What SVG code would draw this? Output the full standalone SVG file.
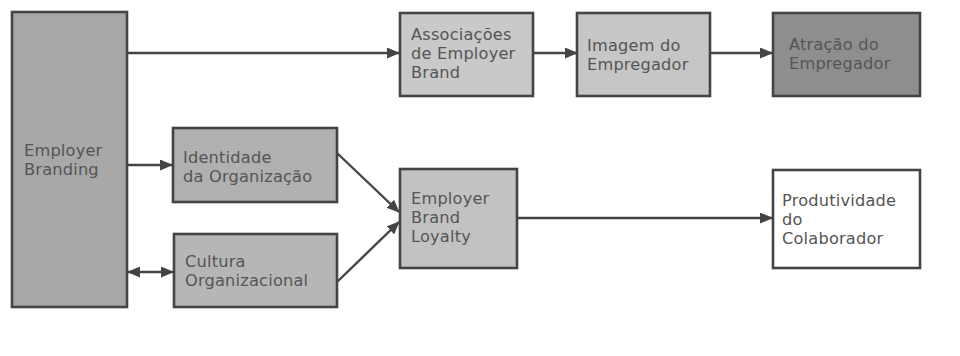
<svg xmlns="http://www.w3.org/2000/svg" width="960" height="356" viewBox="0 0 960 356">
<style>
.box{stroke:#444444;stroke-width:2.6}
.t{font-family:"DejaVu Sans",sans-serif;font-size:16.2px;fill:#555555;letter-spacing:0.2px}
.c{stroke:#444444;stroke-width:2.4;fill:none}
</style>
<defs>
<marker id="ah" viewBox="0 0 13 11" refX="12" refY="5.5" markerWidth="13" markerHeight="11" markerUnits="userSpaceOnUse" orient="auto-start-reverse">
<path d="M0,0 L13,5.5 L0,11 z" fill="#444444"/>
</marker>
</defs>
<rect width="960" height="356" fill="#ffffff"/>
<g id="connectors">
<line class="c" x1="127" y1="53" x2="399" y2="53" marker-end="url(#ah)"/>
<line class="c" x1="533" y1="53" x2="577" y2="53" marker-end="url(#ah)"/>
<line class="c" x1="710" y1="53" x2="772" y2="53" marker-end="url(#ah)"/>
<line class="c" x1="127" y1="165" x2="172" y2="165" marker-end="url(#ah)"/>
<line class="c" x1="128" y1="272" x2="173" y2="272" marker-start="url(#ah)" marker-end="url(#ah)"/>
<line class="c" x1="337" y1="153" x2="399" y2="212" marker-end="url(#ah)"/>
<line class="c" x1="337" y1="282" x2="399" y2="222" marker-end="url(#ah)"/>
<line class="c" x1="517" y1="218" x2="772" y2="218" marker-end="url(#ah)"/>
</g>
<g id="employer-branding">
<rect class="box" x="12" y="12" width="115" height="295" fill="#a8a8a8"/>
<text class="t" x="24" y="156">Employer</text>
<text class="t" x="24" y="175">Branding</text>
</g>
<g id="associacoes">
<rect class="box" x="400" y="13" width="133" height="83" fill="#c9c9c9"/>
<text class="t" x="411" y="40">Associações</text>
<text class="t" x="411" y="59">de Employer</text>
<text class="t" x="411" y="78">Brand</text>
</g>
<g id="imagem">
<rect class="box" x="577" y="13" width="133" height="83" fill="#c6c6c6"/>
<text class="t" x="587" y="51">Imagem do</text>
<text class="t" x="587" y="70">Empregador</text>
</g>
<g id="atracao">
<rect class="box" x="773" y="13" width="147" height="83" fill="#8e8e8e"/>
<text class="t" x="789" y="50" fill="#4f4f4f">Atração do</text>
<text class="t" x="789" y="69" fill="#4f4f4f">Empregador</text>
</g>
<g id="identidade">
<rect class="box" x="173" y="128" width="164" height="74" fill="#b0b0b0"/>
<text class="t" x="183" y="163">Identidade</text>
<text class="t" x="183" y="182">da Organização</text>
</g>
<g id="cultura">
<rect class="box" x="174" y="234" width="163" height="73" fill="#b6b6b6"/>
<text class="t" x="185" y="267">Cultura</text>
<text class="t" x="185" y="286">Organizacional</text>
</g>
<g id="loyalty">
<rect class="box" x="400" y="169" width="117" height="99" fill="#c2c2c2"/>
<text class="t" x="411" y="204">Employer</text>
<text class="t" x="411" y="223">Brand</text>
<text class="t" x="411" y="242">Loyalty</text>
</g>
<g id="produtividade">
<rect class="box" x="773" y="170" width="147" height="98" fill="#ffffff"/>
<text class="t" x="782" y="206">Produtividade</text>
<text class="t" x="782" y="225">do</text>
<text class="t" x="782" y="244">Colaborador</text>
</g>
</svg>
